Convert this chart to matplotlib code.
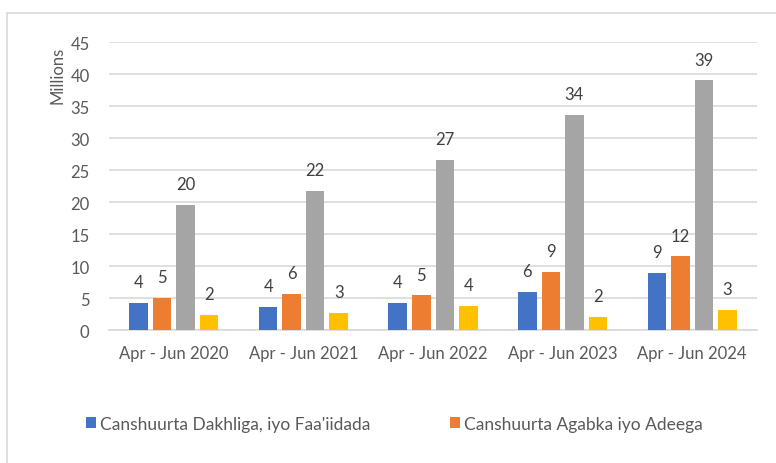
import matplotlib.pyplot as plt
from matplotlib.patches import Rectangle
import numpy as np

plt.rcParams['font.family'] = ['Lato', 'DejaVu Sans']

categories = ['Apr - Jun 2020', 'Apr - Jun 2021', 'Apr - Jun 2022', 'Apr - Jun 2023', 'Apr - Jun 2024']
dakhliga = [4.2, 3.6, 4.2, 5.9, 8.9]
agabka = [5.0, 5.6, 5.4, 9.1, 11.5]
series3 = [19.6, 21.7, 26.6, 33.6, 39.0]
series4 = [2.3, 2.7, 3.8, 2.0, 3.1]

names = ["Canshuurta Dakhliga, iyo Faa'iidada", 'Canshuurta Agabka iyo Adeega', '_s3', '_s4']
colors = ['#4472C4', '#ED7D31', '#A5A5A5', '#FFC000']
values = [dakhliga, agabka, series3, series4]

fig = plt.figure(figsize=(7.76, 4.64), dpi=100)
ax = fig.add_axes([0.1405, 0.2866, 0.835, 0.6207])

# chart border (cropped on right and bottom)
fig.patches.append(Rectangle((7 / 776, -0.1), 1.2, 1 - 14 / 464 + 0.1, transform=fig.transFigure,
                             fill=False, edgecolor='#d9d9d9', linewidth=1.2))

x = np.arange(len(categories))
pitch = 0.1815
width = 0.143
for i, (name, col, vals) in enumerate(zip(names, colors, values)):
    pos = x + (i - 1.5) * pitch
    bars = ax.bar(pos, vals, width, color=col, label=name, zorder=3)
    for b, v in zip(bars, vals):
        ax.annotate(f'{v:.0f}', (b.get_x() + b.get_width() / 2, v), xytext=(0, 15),
                    textcoords='offset points', ha='center', va='center',
                    fontsize=12, color='#404040')

ax.set_xlim(-0.5, len(categories) - 0.5)
ax.set_ylim(0, 45)
ax.set_yticks(range(0, 46, 5))
ax.set_xticks(x)
ax.set_xticklabels(categories)
ax.grid(axis='y', color='#d9d9d9', linewidth=1.2, zorder=0)
for s in ['top', 'right', 'left']:
    ax.spines[s].set_visible(False)
ax.spines['bottom'].set_color('#d9d9d9')
ax.spines['bottom'].set_linewidth(1.2)
ax.tick_params(axis='both', length=0, labelsize=12, colors='#595959')
ax.tick_params(axis='y', pad=14)
ax.tick_params(axis='x', pad=11)

fig.text(57 / 776, 1 - 75 / 464, 'Millions', rotation=90, ha='center', va='center',
         fontsize=12, color='#595959')

handles, labels = ax.get_legend_handles_labels()
fig.legend(handles, labels, loc='center', bbox_to_anchor=(394 / 776, 1 - 425 / 464), ncol=2,
           frameon=False, fontsize=12.5, labelcolor='#595959', handlelength=0.6,
           handleheight=0.6, handletextpad=0.2, columnspacing=4.6)

fig.savefig('out.png', dpi=100)
